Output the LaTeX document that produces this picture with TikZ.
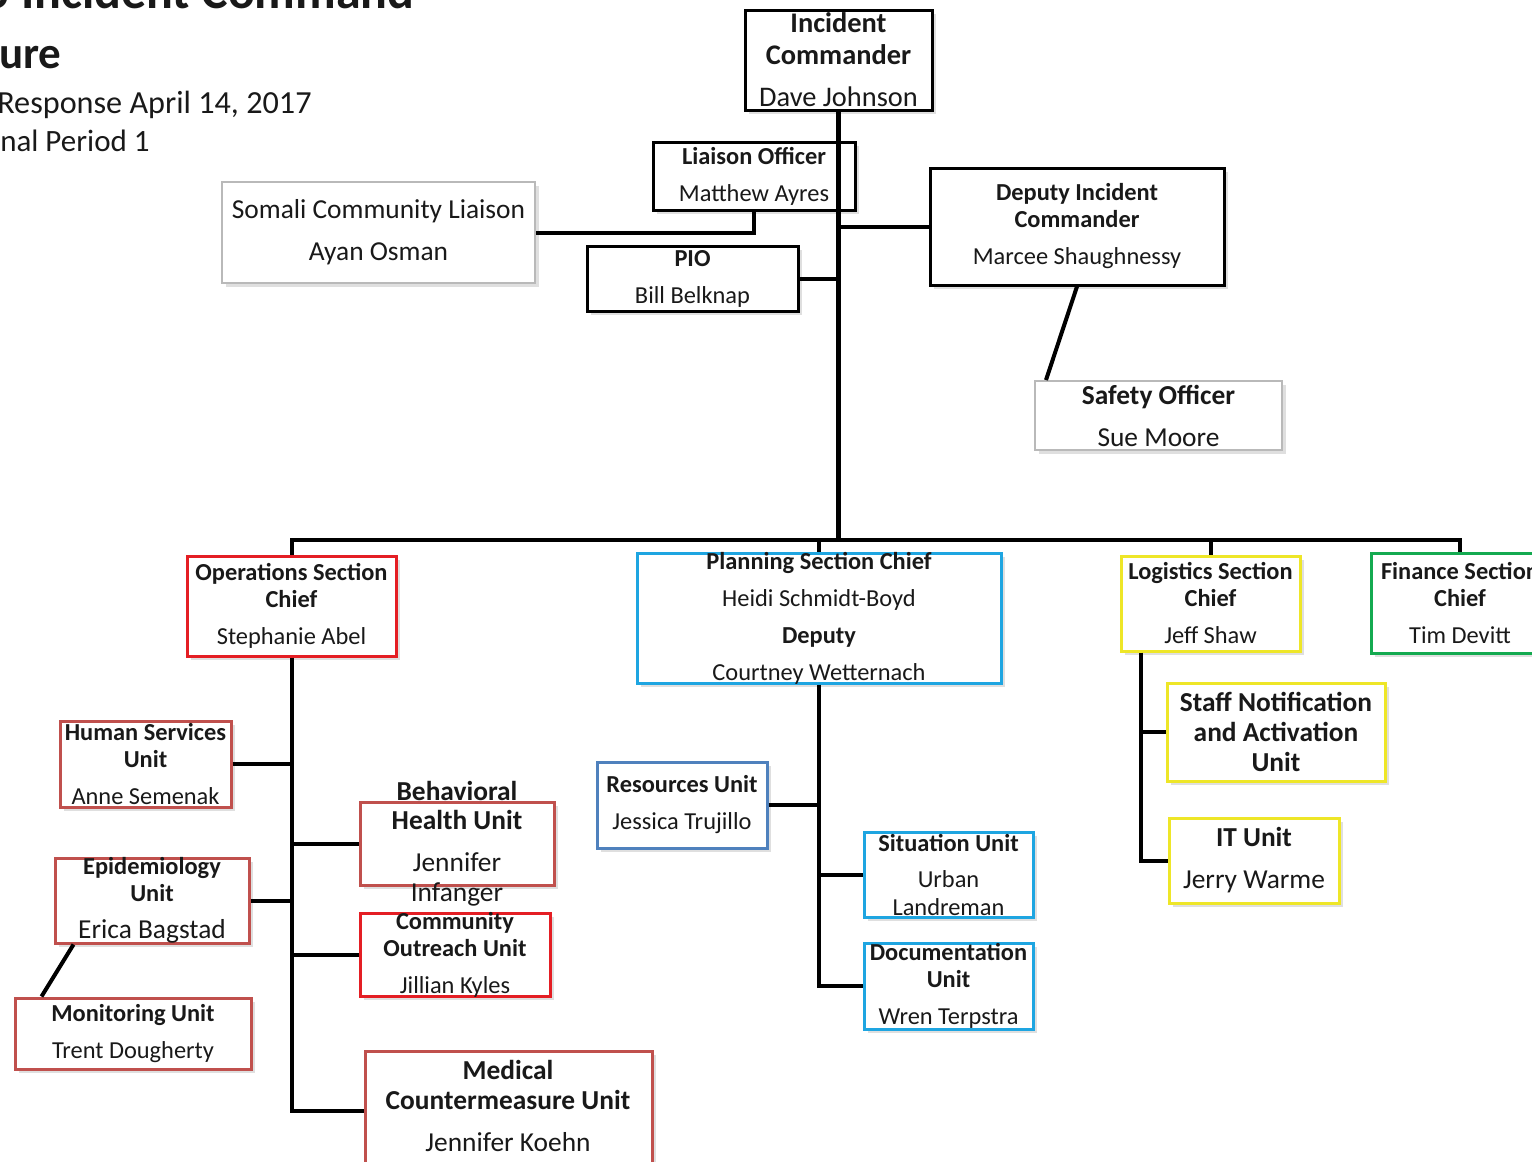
\documentclass[tikz,border=0pt]{standalone}
\usepackage{fontspec}
\setmainfont{Carlito}
\usetikzlibrary{fit,shadows}

\definecolor{ink}{RGB}{25,25,25}
\definecolor{opsred}{RGB}{228,30,36}
\definecolor{unitred}{RGB}{192,80,77}
\definecolor{plnblue}{RGB}{30,165,225}
\definecolor{resblue}{RGB}{79,129,189}
\definecolor{logyellow}{RGB}{238,230,40}
\definecolor{fingreen}{RGB}{20,170,80}
\definecolor{softgray}{RGB}{185,185,185}

\newcommand{\smlfont}{\fontsize{12.2}{13.5}\selectfont}
\newcommand{\lrgfont}{\fontsize{13.7}{14.7}\selectfont}

\tikzset{
  box/.style={draw=#1, line width=1.5pt, fill=white, inner sep=0pt,
    drop shadow={shadow xshift=2pt, shadow yshift=-2pt, opacity=0.25}},
  txt/.style={align=center, inner sep=0pt, font=\smlfont},
  txtl/.style={align=center, inner sep=0pt, font=\lrgfont},
  link/.style={line width=2pt},
}

\begin{document}
\begin{tikzpicture}[x=0.5pt, y=-0.5pt, every node/.style={text=ink}]
  \useasboundingbox (0,0) rectangle (1532,1162);

  % heading, cut off at the left edge
  \node[anchor=base east, inner sep=0pt, font=\fontsize{25}{28}\selectfont\bfseries] (head1) at (415,8) {Metro Incident Command};
  \node[anchor=base east, inner sep=0pt, font=\fontsize{22.5}{26}\selectfont\bfseries] (head2) at (62,68) {Structure};
  \node[anchor=base east, inner sep=0pt, font=\fontsize{16.1}{18}\selectfont] (head3) at (312,113) {Measles Outbreak Response April 14, 2017};
  \node[anchor=base east, inner sep=0pt, font=\fontsize{15.5}{18}\selectfont] (head4) at (150,151) {Operational Period 1};

  % command staff
  \node[box=black, fit={(745,10) (932,110)}] (ic) {};
  \node[txt, font=\fontsize{14.2}{16}\selectfont] (ic-t) at (ic.center) {{\bfseries Incident}\\{\bfseries Commander}\\[5pt]Dave Johnson};
  \node[box=black, fit={(653,142) (855,210)}] (lia) {};
  \node[txt] (lia-t) at (lia.center) {{\bfseries Liaison Officer}\\[5pt]Matthew Ayres};
  \node[box=softgray, line width=1pt, fit={(222,182) (535,283)}] (som) {};
  \node[txtl] (som-t) at (som.center) {Somali Community Liaison\\[6.3pt]Ayan Osman};
  \node[box=black, fit={(587,246) (798,311)}] (pio) {};
  \node[txt] (pio-t) at (pio.center) {{\bfseries PIO}\\[5pt]Bill Belknap};
  \node[box=black, fit={(930,168) (1224,285)}] (dep) {};
  \node[txt] (dep-t) at (dep.center) {{\bfseries Deputy Incident}\\{\bfseries Commander}\\[5pt]Marcee Shaughnessy};
  \node[box=softgray, line width=1pt, fit={(1035,381) (1282,450)}] (saf) {};
  \node[txtl] (saf-t) at (saf.center) {{\bfseries Safety Officer}\\[6.3pt]Sue Moore};

  % sections
  \node[box=opsred, fit={(187,556) (396,656)}] (ops) {};
  \node[txt] (ops-t) at (ops.center) {{\bfseries Operations Section}\\{\bfseries Chief}\\[5pt]Stephanie Abel};
  \node[box=plnblue, fit={(637,553) (1001,683)}] (pln) {};
  \node[txt] (pln-t) at (pln.center) {{\bfseries Planning Section Chief}\\[5pt]Heidi Schmidt-Boyd\\[5pt]{\bfseries Deputy}\\[5pt]Courtney Wetternach};
  \node[box=logyellow, fit={(1121,556) (1300,651)}] (lgs) {};
  \node[txt] (lgs-t) at (lgs.center) {{\bfseries Logistics Section}\\{\bfseries Chief}\\[5pt]Jeff Shaw};
  \node[box=fingreen, fit={(1371,553) (1549,653)}] (fin) {};
  \node[txt] (fin-t) at (fin.center) {{\bfseries Finance Section}\\{\bfseries Chief}\\[5pt]Tim Devitt};

  % operations units
  \node[box=unitred, fit={(60,721) (231,807)}] (hsu) {};
  \node[txt] (hsu-t) at (hsu.center) {{\bfseries Human Services}\\{\bfseries Unit}\\[5pt]Anne Semenak};
  \node[box=unitred, fit={(55,858) (249,943)}] (epi) {};
  \node[txt] (epi-t) at (epi.center) {{\bfseries Epidemiology}\\{\bfseries Unit}\\[5pt]{\lrgfont Erica Bagstad}};
  \node[box=unitred, fit={(15,998) (251,1069)}] (mon) {};
  \node[txt] (mon-t) at (mon.center) {{\bfseries Monitoring Unit}\\[5pt]Trent Dougherty};
  \node[box=unitred, fit={(360,802) (554,885)}] (bhu) {};
  \node[txtl] (bhu-t) at (bhu.center) {{\bfseries Behavioral}\\{\bfseries Health Unit}\\[6.3pt]Jennifer\\Infanger};
  \node[box=opsred, fit={(360,913) (550,996)}] (cou) {};
  \node[txt] (cou-t) at (cou.center) {{\bfseries Community}\\{\bfseries Outreach Unit}\\[5pt]Jillian Kyles};
  \node[box=unitred, fit={(365,1051) (652,1170)}] (mcu) {};
  \node[txtl] (mcu-t) at (508,1106) {{\bfseries Medical}\\{\bfseries Countermeasure Unit}\\[6.3pt]Jennifer Koehn};

  % planning units
  \node[box=resblue, fit={(597,762) (767,848)}] (res) {};
  \node[txt] (res-t) at (res.center) {{\bfseries Resources Unit}\\[5pt]Jessica Trujillo};
  \node[box=plnblue, fit={(864,832) (1033,917)}] (sit) {};
  \node[txt] (sit-t) at (sit.center) {{\bfseries Situation Unit}\\[5pt]Urban\\Landreman};
  \node[box=plnblue, fit={(864,943) (1033,1029)}] (doc) {};
  \node[txt] (doc-t) at (doc.center) {{\bfseries Documentation}\\{\bfseries Unit}\\[5pt]Wren Terpstra};

  % logistics units
  \node[box=logyellow, fit={(1167,683) (1385,781)}] (snu) {};
  \node[txtl, font=\fontsize{13.7}{15.2}\selectfont\bfseries] (snu-t) at (snu.center) {Staff Notification\\and Activation\\Unit};
  \node[box=logyellow, fit={(1169,818) (1339,903)}] (itu) {};
  \node[txtl] (itu-t) at (itu.center) {{\bfseries IT Unit}\\[6.3pt]Jerry Warme};

  % connectors
  \coordinate (hbar) at (840,540);
  \coordinate (lgtrunk) at ([xshift=10.5pt]lgs.south west);
  \draw[link, line width=2.5pt] (ic.south) -- (ic.south |- hbar);
  \draw[link] (lia.south) |- (som.east);
  \draw[link] (pio.east) -- (pio.east -| ic.south);
  \draw[link] (dep.west) -- (dep.west -| ic.south);
  \draw[link] (dep.south) -- ([xshift=6pt]saf.north west);
  \draw[link] (ops.north) |- (hbar) -| (fin.north);
  \draw[link] (pln.north) -- (pln.north |- hbar);
  \draw[link] (lgs.north) -- (lgs.north |- hbar);

  \draw[link] (ops.south) |- (mcu.west);
  \draw[link] (hsu.east) -- (hsu.east -| ops.south);
  \draw[link] (epi.east) -- (epi.east -| ops.south);
  \draw[link] (bhu.west) -- (bhu.west -| ops.south);
  \draw[link] (cou.west) -- (cou.west -| ops.south);
  \draw[link] ([xshift=10pt]epi.south west) -- ([xshift=14pt]mon.north west);

  \draw[link] (pln.south) |- (doc.west);
  \draw[link] (res.east) -- (res.east -| pln.south);
  \draw[link] (sit.west) -- (sit.west -| pln.south);

  \draw[link] (lgtrunk) |- (itu.west);
  \draw[link] (snu.west) -- (snu.west -| lgtrunk);
\end{tikzpicture}
\end{document}
